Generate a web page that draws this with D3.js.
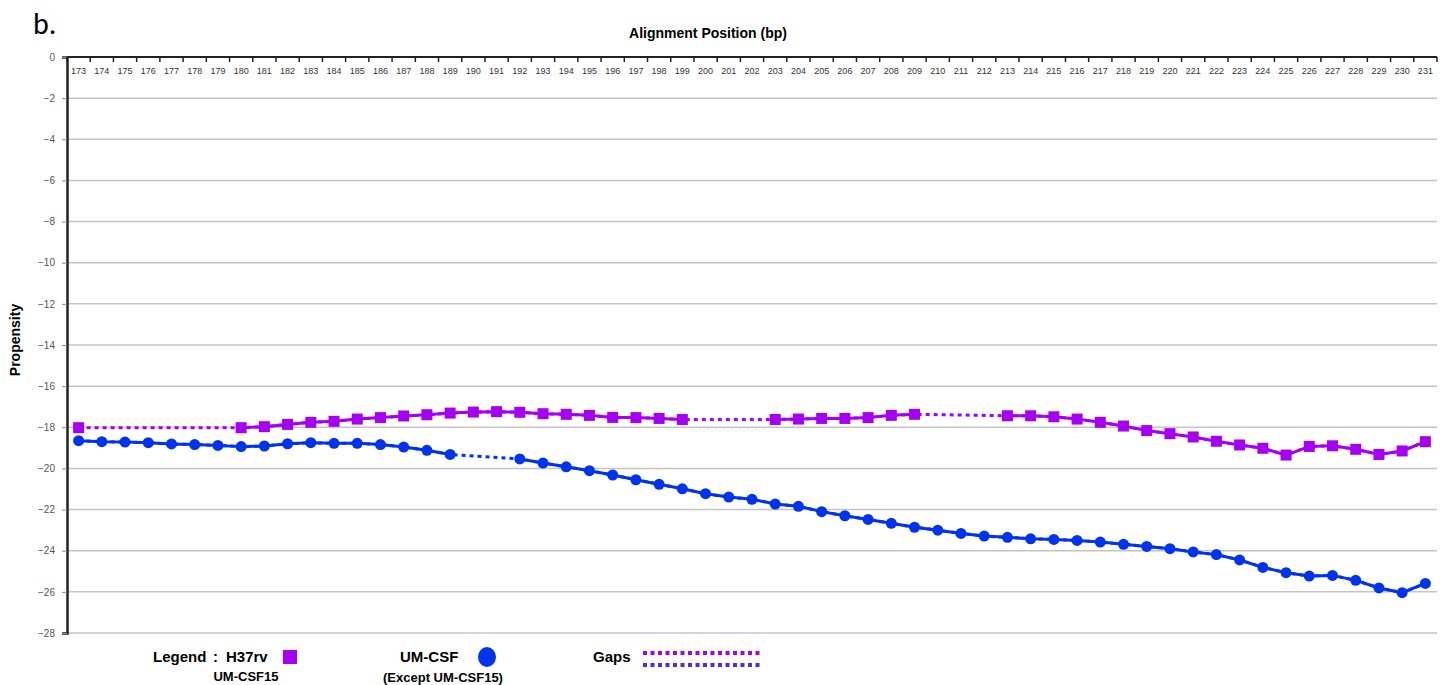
<!DOCTYPE html>
<html>
<head>
<meta charset="utf-8">
<script src="https://cdn.jsdelivr.net/npm/d3@7"></script>
<style>
  body { margin: 0; background: #fff; }
  svg text { font-family: "Liberation Sans", Arial, sans-serif; }
</style>
</head>
<body>
<div id="chart"></div>
<script>
// alignment positions 173..231
let positions = d3.range(173, 232);

// H37rv / UM-CSF15 propensity (null = gap)
let h37rv = [
  -18.02, null, null, null, null, null, null, -18.02, -17.97, -17.86,
  -17.76, -17.71, -17.60, -17.53, -17.45, -17.39, -17.31, -17.26, -17.24, -17.27,
  -17.34, -17.37, -17.42, -17.52, -17.53, -17.57, -17.62, null, null, null,
  -17.62, -17.60, -17.57, -17.57, -17.53, -17.42, -17.37, null, null, null,
  -17.44, -17.44, -17.49, -17.60, -17.76, -17.94, -18.16, -18.31, -18.47, -18.68,
  -18.86, -19.02, -19.35, -18.93, -18.90, -19.07, -19.32, -19.15, -18.70
];

// UM-CSF (except UM-CSF15) propensity (null = gap)
let umcsf = [
  -18.65, -18.70, -18.72, -18.75, -18.81, -18.84, -18.88, -18.94, -18.91, -18.80,
  -18.75, -18.78, -18.78, -18.84, -18.96, -19.12, -19.32, null, null, -19.54,
  -19.74, -19.92, -20.11, -20.32, -20.55, -20.77, -20.99, -21.23, -21.39, -21.50,
  -21.73, -21.84, -22.10, -22.30, -22.48, -22.67, -22.86, -23.00, -23.16, -23.29,
  -23.35, -23.42, -23.45, -23.50, -23.58, -23.69, -23.79, -23.90, -24.06, -24.19,
  -24.45, -24.81, -25.07, -25.23, -25.20, -25.44, -25.81, -26.04, -25.59
];

let yTicks = d3.range(0, -29, -2);

let purple = "#a600f2";
let blue = "#0033ee";

let width = 1453, height = 685;
let plotLeft = 67, plotRight = 1437, plotTop = 57, plotBottom = 633;

let svg = d3.select("#chart").append("svg")
  .attr("width", width)
  .attr("height", height);

let x = d3.scaleBand().domain(positions).range([plotLeft, plotRight]);
let y = d3.scaleLinear().domain([0, -28]).range([plotTop, plotBottom]);
let cx = function (p) { return x(p) + x.bandwidth() / 2; };

// grid lines
svg.append("g")
  .selectAll("line")
  .data(yTicks.filter(function (d) { return d < 0; }))
  .enter()
  .append("line")
  .attr("x1", plotLeft)
  .attr("x2", plotRight)
  .attr("y1", function (d) { return y(d); })
  .attr("y2", function (d) { return y(d); })
  .style("stroke", "#c4c4c4")
  .style("stroke-width", 1.5);

// left axis
let yAxis = svg.append("g")
  .attr("transform", "translate(" + plotLeft + ",0)")
  .call(d3.axisLeft(y).tickValues(yTicks).tickSize(5).tickFormat(d3.format("d")));
yAxis.select(".domain").style("stroke", "#222").style("stroke-width", 2.5);
yAxis.selectAll(".tick line").style("stroke", "#888");
yAxis.selectAll(".tick text")
  .attr("x", -12)
  .style("font-size", "10px")
  .style("fill", "#555");

// top axis, ticks pointing into the plot
let xAxis = svg.append("g")
  .attr("transform", "translate(0," + plotTop + ")")
  .call(d3.axisBottom(x).tickSize(0).tickPadding(8));
xAxis.select(".domain").attr("d", "M" + plotLeft + ",0H" + plotRight)
  .style("stroke", "#222").style("stroke-width", 2);
xAxis.selectAll(".tick text")
  .attr("y", 11)
  .style("font-size", "9px")
  .style("fill", "#333");
svg.append("g")
  .selectAll("line")
  .data(positions.concat([null]))
  .enter()
  .append("line")
  .attr("x1", function (d, i) { return plotLeft + i * x.bandwidth(); })
  .attr("x2", function (d, i) { return plotLeft + i * x.bandwidth(); })
  .attr("y1", plotTop)
  .attr("y2", plotTop + 5)
  .style("stroke", "#222")
  .style("stroke-width", 1.5);

// titles
svg.append("text")
  .attr("x", 708).attr("y", 38)
  .attr("text-anchor", "middle")
  .style("font-size", "14px").style("font-weight", "bold")
  .text("Alignment Position (bp)");

svg.append("text")
  .attr("transform", "translate(20," + 340 + ") rotate(-90)")
  .attr("text-anchor", "middle")
  .style("font-size", "14px").style("font-weight", "bold")
  .text("Propensity");

svg.append("text")
  .attr("x", 33).attr("y", 34)
  .style("font-family", "Carlito, 'DejaVu Sans', sans-serif")
  .style("font-size", "30px")
  .text("b.");

function drawSeries(values, color, isSquare) {
  let pts = positions.map(function (p, i) { return { p: p, v: values[i] }; });
  let known = pts.filter(function (d) { return d.v !== null; });

  // dotted line across gaps
  svg.append("path")
    .datum(known)
    .attr("d", d3.line().x(function (d) { return cx(d.p); }).y(function (d) { return y(d.v); }))
    .style("fill", "none")
    .style("stroke", color)
    .style("stroke-width", 3)
    .style("stroke-dasharray", "4,4");

  // solid line over consecutive points
  svg.append("path")
    .datum(pts)
    .attr("d", d3.line()
      .defined(function (d) { return d.v !== null; })
      .x(function (d) { return cx(d.p); })
      .y(function (d) { return y(d.v); }))
    .style("fill", "none")
    .style("stroke", color)
    .style("stroke-width", 3);

  if (isSquare) {
    svg.append("g").selectAll("rect")
      .data(known).enter().append("rect")
      .attr("x", function (d) { return cx(d.p) - 5.5; })
      .attr("y", function (d) { return y(d.v) - 5.5; })
      .attr("width", 11).attr("height", 11)
      .style("fill", color);
  } else {
    svg.append("g").selectAll("circle")
      .data(known).enter().append("circle")
      .attr("cx", function (d) { return cx(d.p); })
      .attr("cy", function (d) { return y(d.v); })
      .attr("r", 5.5)
      .style("fill", color);
  }
}

drawSeries(h37rv, purple, true);
drawSeries(umcsf, blue, false);

// legend
let legendFont = "'Liberation Sans Narrow', 'Liberation Sans', Arial, sans-serif";
let lg = svg.append("g").style("font-weight", "bold");
lg.append("text").attr("x", 153).attr("y", 662).style("font-size", "15px")
  .text("Legend").style("font-family", legendFont);
lg.append("text").attr("x", 213).attr("y", 662).style("font-size", "15px")
  .text(":").style("font-family", legendFont);
lg.append("text").attr("x", 226).attr("y", 662).style("font-size", "15px")
  .text("H37rv").style("font-family", legendFont);
lg.append("rect").attr("x", 283).attr("y", 650).attr("width", 14).attr("height", 14).style("fill", purple);
lg.append("text").attr("x", 246).attr("y", 681).attr("text-anchor", "middle").style("font-size", "13px")
  .text("UM-CSF15").style("font-family", legendFont);
lg.append("text").attr("x", 400).attr("y", 662).style("font-size", "15px")
  .text("UM-CSF").style("font-family", legendFont);
lg.append("ellipse").attr("cx", 487).attr("cy", 657).attr("rx", 9).attr("ry", 10).style("fill", blue);
lg.append("text").attr("x", 443).attr("y", 682).attr("text-anchor", "middle").style("font-size", "13px")
  .text("(Except UM-CSF15)").style("font-family", legendFont);
lg.append("text").attr("x", 593).attr("y", 662).style("font-size", "15px")
  .text("Gaps").style("font-family", legendFont);
lg.append("line").attr("x1", 643).attr("x2", 763).attr("y1", 653).attr("y2", 653)
  .style("stroke", purple).style("stroke-width", 4).style("stroke-dasharray", "4,3.5");
lg.append("line").attr("x1", 643).attr("x2", 763).attr("y1", 665).attr("y2", 665)
  .style("stroke", "#4a2ee6").style("stroke-width", 4).style("stroke-dasharray", "4,3.5");
</script>
</body>
</html>
